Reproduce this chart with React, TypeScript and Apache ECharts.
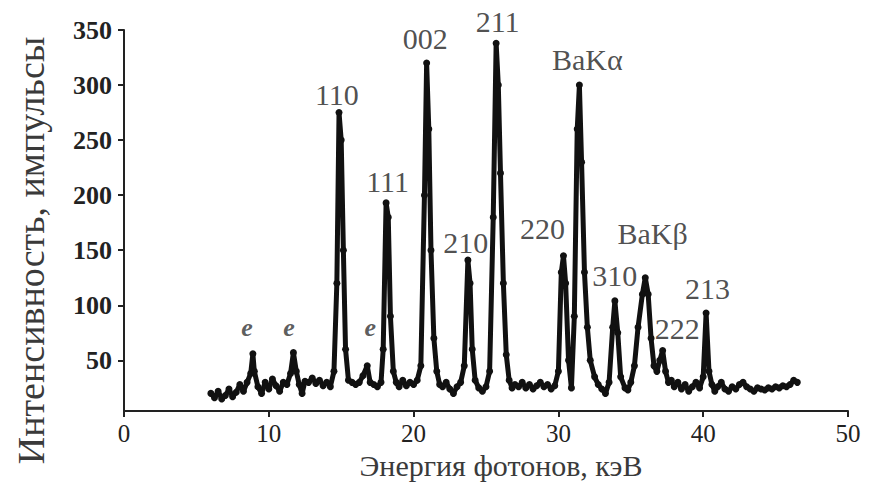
import React, { useEffect, useRef } from "react";
import * as echarts from "echarts";

// Spectrum: photon energy (keV) and counts
const energies = [
  6.0, 6.25, 6.5, 6.75, 7.0, 7.25, 7.5, 7.75, 8.0, 8.25, 8.5, 8.75, 8.9, 9.0, 9.25, 9.5, 9.75,
  10.0, 10.25, 10.5, 10.75, 11.0, 11.25, 11.5, 11.7, 11.9, 12.1, 12.3, 12.5, 12.75, 13.0, 13.25,
  13.5, 13.75, 14.0, 14.25, 14.5, 14.7, 14.85, 15.0, 15.15, 15.3, 15.5, 15.75, 16.0, 16.25, 16.5,
  16.8, 17.0, 17.25, 17.5, 17.75, 17.9, 18.1, 18.25, 18.4, 18.6, 18.8, 19.0, 19.25, 19.5, 19.75,
  20.0, 20.25, 20.5, 20.75, 20.9, 21.05, 21.2, 21.4, 21.6, 21.8, 22.0, 22.25, 22.5, 22.75, 23.0,
  23.25, 23.5, 23.75, 23.9, 24.05, 24.25, 24.5, 24.75, 25.0, 25.25, 25.5, 25.7, 25.85, 26.0, 26.2,
  26.4, 26.6, 26.8, 27.0, 27.25, 27.5, 27.75, 28.0, 28.25, 28.5, 28.75, 29.0, 29.25, 29.5, 29.75,
  30.0, 30.2, 30.35, 30.5, 30.7, 30.9, 31.1, 31.3, 31.45, 31.6, 31.8, 32.0, 32.2, 32.5, 32.75,
  33.0, 33.25, 33.5, 33.75, 33.9, 34.1, 34.3, 34.6, 34.8, 35.0, 35.25, 35.5, 35.8, 36.0, 36.2,
  36.4, 36.6, 36.8, 37.0, 37.2, 37.4, 37.6, 37.8, 38.0, 38.25, 38.5, 38.75, 39.0, 39.25, 39.5,
  39.75, 40.0, 40.2, 40.4, 40.6, 40.8, 41.0, 41.25, 41.5, 41.75, 42.0, 42.25, 42.5, 42.75, 43.0,
  43.25, 43.5, 43.75, 44.0, 44.25, 44.5, 44.75, 45.0, 45.25, 45.5, 45.75, 46.0, 46.25, 46.5,
];
const counts = [
  20, 16, 22, 15, 18, 24, 17, 21, 28, 22, 30, 38, 56, 40, 26, 20, 30,
  24, 33, 27, 22, 30, 28, 38, 57, 40, 28, 20, 31, 30, 34, 29,
  32, 27, 30, 26, 40, 120, 275, 250, 150, 60, 32, 30, 28, 30, 36,
  45, 30, 28, 26, 30, 60, 193, 180, 90, 40, 30, 26, 32, 27, 30,
  28, 32, 45, 200, 320, 260, 150, 70, 40, 28, 26, 30, 24, 20, 26,
  30, 45, 141, 120, 60, 32, 25, 22, 26, 40, 180, 338, 300, 220, 120,
  55, 32, 25, 28, 26, 30, 25, 28, 24, 27, 30, 26, 28, 24, 27,
  40, 130, 145, 120, 50, 25, 90, 260, 300, 230, 130, 80, 50, 35, 28,
  24, 20, 30, 80, 104, 75, 35, 25, 23, 30, 45, 80, 110, 125, 110,
  70, 45, 40, 50, 59, 40, 30, 32, 26, 30, 24, 28, 22, 26, 30,
  25, 35, 93, 40, 28, 22, 26, 30, 24, 22, 26, 24, 28, 30, 26,
  24, 22, 25, 24, 23, 25, 24, 26, 25, 27, 26, 28, 32, 30,
];

// Peak annotations
const peakNames = ["110", "111", "002", "210", "211", "220", "BaKα", "310", "BaKβ", "222", "213"];
const peakLabelE = [14.7, 18.2, 20.8, 23.6, 25.8, 28.9, 32.0, 33.9, 36.5, 38.2, 40.3];
const peakLabelV = [291, 212, 342, 157, 358, 170, 323, 127, 165, 79, 115];

const escNames = ["e", "e", "e"];
const escLabelE = [8.5, 11.4, 17.0];
const escLabelV = [80, 80, 80];

const xTicks = [0, 10, 20, 30, 40, 50];
const yTicks = [50, 100, 150, 200, 250, 300, 350];

const FONT = '"Liberation Serif", "Times New Roman", serif';

export default function App() {
  const ref = useRef<HTMLDivElement>(null);

  useEffect(() => {
    if (!ref.current) return;
    const chart = echarts.init(ref.current, undefined, { renderer: "svg" });

    const lineData = energies.map((e, i) => [e, counts[i]]);
    const peakData = peakNames.map((n, i) => ({ name: n, value: [peakLabelE[i], peakLabelV[i]] }));
    const escData = escNames.map((n, i) => ({ name: n, value: [escLabelE[i], escLabelV[i]] }));

    chart.setOption({
      animation: false,
      backgroundColor: "#ffffff",
      textStyle: { fontFamily: FONT },
      grid: { left: 124, right: 33, top: 30, bottom: 90, containLabel: false },
      xAxis: {
        type: "value",
        min: 0,
        max: 50,
        interval: 10,
        name: "Энергия фотонов, кэВ",
        nameLocation: "middle",
        nameGap: 38,
        nameTextStyle: { fontFamily: FONT, fontSize: 30, color: "#3a3a3a", padding: [0, 0, 0, 30] },
        splitLine: { show: false },
        axisLine: { lineStyle: { color: "#222", width: 2 } },
        axisTick: { length: 6, lineStyle: { color: "#222", width: 2 } },
        axisLabel: {
          fontFamily: FONT,
          fontSize: 25,
          color: "#222",
          margin: 10,
          customValues: xTicks,
        },
      },
      yAxis: {
        type: "value",
        min: 4,
        max: 350,
        name: "Интенсивность, импульсы",
        nameLocation: "middle",
        nameGap: 74,
        nameTextStyle: { fontFamily: FONT, fontSize: 38, color: "#3a3a3a", padding: [0, 60, 0, 0] },
        splitLine: { show: false },
        axisLine: { lineStyle: { color: "#222", width: 2 } },
        axisTick: { length: 6, lineStyle: { color: "#222", width: 2 }, customValues: yTicks },
        axisLabel: {
          fontFamily: FONT,
          fontSize: 26,
          fontWeight: "bold",
          color: "#222",
          margin: 12,
          customValues: yTicks,
        },
      },
      series: [
        {
          type: "line",
          data: lineData,
          showSymbol: true,
          symbol: "circle",
          symbolSize: 7,
          itemStyle: { color: "#111" },
          lineStyle: { color: "#111", width: 5 },
          z: 2,
        },
        {
          type: "scatter",
          data: peakData,
          symbolSize: 0,
          clip: false,
          silent: true,
          label: {
            show: true,
            position: "inside",
            formatter: "{b}",
            fontFamily: FONT,
            fontSize: 30,
            color: "#222",
          },
          z: 3,
        },
        {
          type: "scatter",
          data: escData,
          symbolSize: 0,
          clip: false,
          silent: true,
          label: {
            show: true,
            position: "inside",
            formatter: "{b}",
            fontFamily: FONT,
            fontSize: 26,
            fontStyle: "italic",
            fontWeight: "bold",
            color: "#333",
          },
          z: 3,
        },
      ],
    });

    return () => chart.dispose();
  }, []);

  return (
    <div
      ref={ref}
      style={{ position: "fixed", left: 0, top: 0, width: 881, height: 501, background: "#fff" }}
    />
  );
}
